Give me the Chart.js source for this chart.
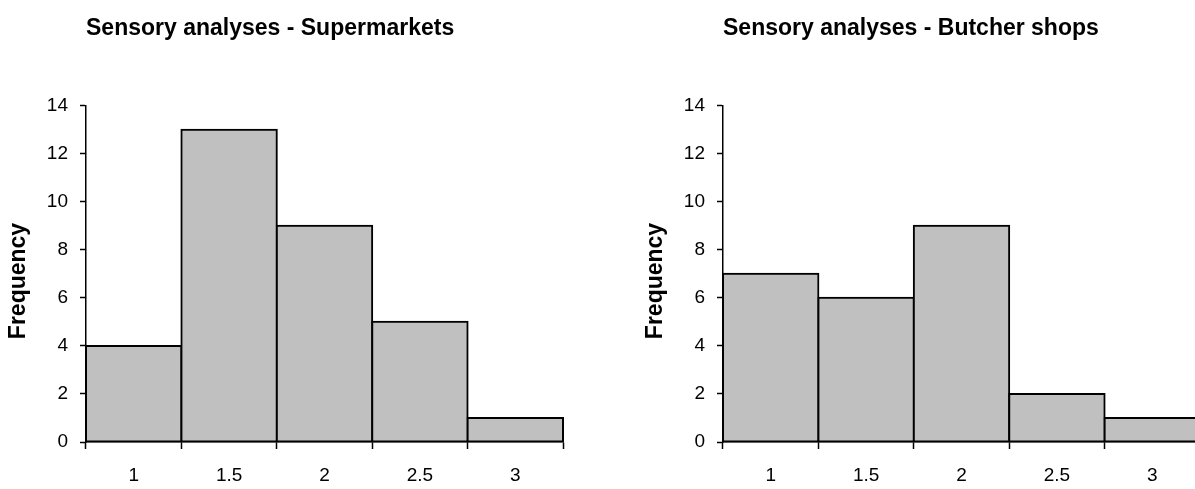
<!DOCTYPE html>
<html>
<head>
<meta charset="utf-8">
<script src="https://cdn.jsdelivr.net/npm/chart.js@4/dist/chart.umd.min.js"></script>
<style>
	html, body {
		margin: 0;
		padding: 0;
		background: #fff;
		overflow: hidden;
	}
	.panel {
		position: absolute;
		top: 0;
		width: 600px;
		height: 489px;
	}
</style>
</head>
<body>
<div class="panel" style="left: 0px"><canvas id="chartSuper"></canvas></div>
<div class="panel" style="left: 637px"><canvas id="chartButcher"></canvas></div>

<script>
// ***** DATA *****
let categories = ['1', '1.5', '2', '2.5', '3']
let supermarketValues = [4, 13, 9, 5, 1]
let butcherValues = [7, 6, 9, 2, 1]
let yTicks = [0, 2, 4, 6, 8, 10, 12, 14]

let titleSuper = 'Sensory analyses - Supermarkets'
let titleButcher = 'Sensory analyses - Butcher shops'
let yTitle = 'Frequency'

// ***** STYLE *****
let fontFamily = '"Liberation Sans", Arial, sans-serif'
let barFill = '#c0c0c0'
let lineColor = '#000000'

Chart.defaults.font.family = fontFamily
Chart.defaults.color = '#000'
Chart.defaults.animation = false

// vertical axis title, placed a bit below the plot middle like the original
let yTitlePlugin = {
	id: 'yTitle',
	afterDraw(chart, args, opts) {
		let ctx = chart.ctx
		ctx.save()
		ctx.translate(opts.x, opts.y)
		ctx.rotate(-Math.PI / 2)
		ctx.font = 'bold 23px ' + fontFamily
		ctx.fillStyle = '#000'
		ctx.textAlign = 'center'
		ctx.textBaseline = 'middle'
		ctx.fillText(opts.text, 0, 0)
		ctx.restore()
	},
}

// build one histogram panel
function makeChart(id, title, values) {
	let ctx = document.getElementById(id).getContext('2d')
	return new Chart(ctx, {
		type: 'bar',
		data: {
			labels: categories,
			datasets: [
				{
					data: values,
					backgroundColor: barFill,
					borderColor: lineColor,
					borderWidth: 2,
					borderSkipped: false,
					inflateAmount: 1,
					categoryPercentage: 1,
					barPercentage: 1,
					clip: 6,
				},
			],
		},
		plugins: [yTitlePlugin],
		options: {
			responsive: false,
			maintainAspectRatio: false,
			layout: {
				padding: { left: 0, right: 37, top: 0, bottom: 0 },
			},
			plugins: {
				legend: { display: false },
				tooltip: { enabled: false },
				yTitle: { text: yTitle, x: 19, y: 281 },
				title: {
					display: true,
					text: title,
					align: 'start',
					fullSize: false,
					color: '#000',
					font: { size: 23, weight: 'bold' },
					padding: { top: 15, bottom: 63 },
				},
			},
			scales: {
				x: {
					type: 'category',
					offset: true,
					grid: {
						offset: true,
						drawOnChartArea: false,
						drawTicks: true,
						tickLength: 7,
						tickWidth: 1.5,
						tickColor: lineColor,
					},
					border: { display: true, color: lineColor, width: 1.5 },
					ticks: {
						padding: 15,
						font: { size: 19 },
						color: '#000',
					},
					afterFit: (scale) => {
						scale.height = 47
					},
				},
				y: {
					min: 0,
					max: 14,
					afterBuildTicks: (scale) => {
						scale.ticks = yTicks.map((v) => ({ value: v }))
					},
					grid: {
						drawOnChartArea: false,
						drawTicks: true,
						tickLength: 6,
						tickWidth: 1.5,
						tickColor: lineColor,
					},
					border: { display: true, color: lineColor, width: 1.5 },
					ticks: {
						padding: 12,
						font: { size: 19 },
						color: '#000',
					},
					afterFit: (scale) => {
						scale.width = 86
					},
				},
			},
		},
	})
}

let canvasSuper = document.getElementById('chartSuper')
let canvasButcher = document.getElementById('chartButcher')
canvasSuper.width = 600
canvasSuper.height = 489
canvasButcher.width = 600
canvasButcher.height = 489

let chartSuper = makeChart('chartSuper', titleSuper, supermarketValues)
let chartButcher = makeChart('chartButcher', titleButcher, butcherValues)
</script>
</body>
</html>
